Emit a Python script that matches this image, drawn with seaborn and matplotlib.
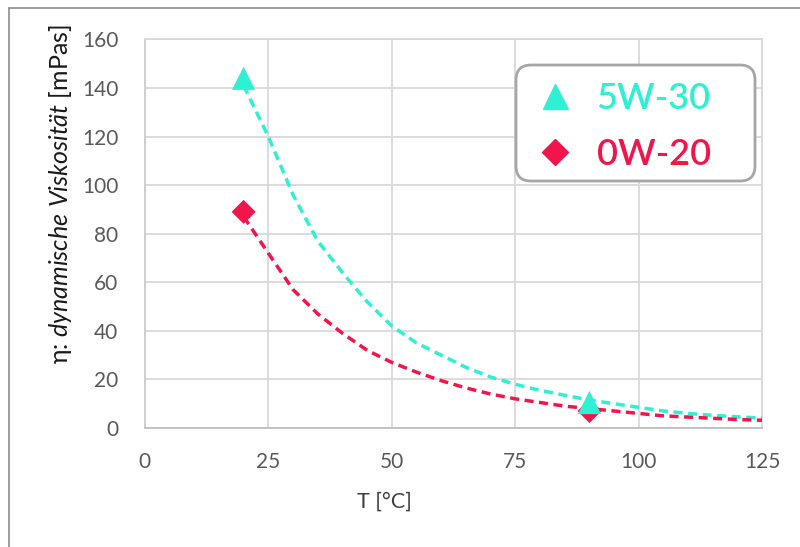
import numpy as np
import pandas as pd
import seaborn as sns
import matplotlib.pyplot as plt
from matplotlib.lines import Line2D
from matplotlib.patches import FancyBboxPatch

# Messpunkte (T in °C, Viskosität in mPas)
t_mess = [20, 90]
visk_5w30 = [144, 10.5]
visk_0w20 = [89, 7]

# Trendlinien
t_trend = [20, 25, 30, 35, 40, 45, 50, 55, 60, 65, 70, 75, 80, 85, 90, 95, 100, 105, 110, 115, 120, 125]
trend_5w30 = [141, 120, 96, 77, 64, 52, 42, 35, 30, 25, 21, 18, 15.5, 13.5, 11.5, 10, 8.5, 7, 6, 5.2, 4.6, 4.1]
trend_0w20 = [87, 72, 57, 47, 39, 32, 27, 23, 19.5, 16.5, 14, 12, 10.5, 9, 8, 7, 6, 5, 4.5, 4, 3.5, 3.2]

farbe_5w30 = '#2EF0D2'
farbe_0w20 = '#F2154B'

sns.set_style('white')
plt.rcParams['font.family'] = ['Lato', 'DejaVu Sans']
plt.rcParams['mathtext.fontset'] = 'custom'
plt.rcParams['mathtext.rm'] = 'Lato'
plt.rcParams['mathtext.it'] = 'Lato:italic'

df_mess = pd.DataFrame({'T': t_mess, '5W-30': visk_5w30, '0W-20': visk_0w20})
df_trend = pd.DataFrame({'T': t_trend, '5W-30': trend_5w30, '0W-20': trend_0w20})

fig = plt.figure(figsize=(8, 5.47), dpi=100)
ax = fig.add_axes([0.181, 0.2175, 0.772, 0.7105])

# gestrichelte Trendlinien
sns.lineplot(data=df_trend, x='T', y='5W-30', ax=ax, color=farbe_5w30, lw=2.5,
             dashes=False, linestyle=(0, (2.6, 1.6)), legend=False, zorder=3)
sns.lineplot(data=df_trend, x='T', y='0W-20', ax=ax, color=farbe_0w20, lw=2.5,
             dashes=False, linestyle=(0, (2.6, 1.6)), legend=False, zorder=3)

# Messpunkte
sns.scatterplot(data=df_mess, x='T', y='0W-20', ax=ax, marker='D', s=150,
                color=farbe_0w20, edgecolor='none', zorder=4)
sns.scatterplot(data=df_mess, x='T', y='5W-30', ax=ax, marker='^', s=280,
                color=farbe_5w30, edgecolor='none', zorder=5)

ax.set_xlim(0, 125)
ax.set_ylim(0, 160)
ax.set_xticks(range(0, 126, 25))
ax.set_yticks(range(0, 161, 20))
ax.grid(True, color='#d9d9d9', lw=1.3)
ax.set_axisbelow(True)
for s in ax.spines.values():
    s.set_color('#d9d9d9')
    s.set_linewidth(1.3)
ax.spines['bottom'].set_color('#bfbfbf')
ax.spines['left'].set_color('#cccccc')
ax.tick_params(axis='both', length=0, labelsize=15, labelcolor='#595959')
ax.tick_params(axis='y', pad=19)
ax.tick_params(axis='x', pad=17)
ax.set_xlabel('')
ax.set_ylabel('')

fig.text(0.481, 0.082, 'T [°C]', ha='center', va='center', fontsize=15.5, color='#404040')
fig.text(0.076, 0.645, r'η: $\mathit{dynamische\ Viskosität}$ [mPas]', rotation=90,
         ha='center', va='center', fontsize=18, color='#1a1a1a')

# Legende: Rahmen als eigenes Kästchen, Einträge ohne Rahmen
box = FancyBboxPatch((5.16, 3.66), 2.39, 1.16, boxstyle='round,pad=0,rounding_size=0.15',
                     transform=fig.dpi_scale_trans, facecolor='white', edgecolor='#a6a6a6',
                     lw=2, zorder=10, clip_on=False)
ax.add_artist(box)

handles = [
    Line2D([], [], marker='^', ls='none', color=farbe_5w30, markersize=18, label='5W-30'),
    Line2D([], [], marker='D', ls='none', color=farbe_0w20, markersize=13, label='0W-20'),
]
leg = ax.legend(handles=handles, loc='upper left', bbox_to_anchor=(0.632, 0.89),
                frameon=False, labelcolor='markerfacecolor',
                prop={'size': 26, 'weight': 'semibold'},
                handletextpad=0.6, borderpad=0, labelspacing=0.62, handlelength=1.1,
                borderaxespad=0)
leg.set_zorder(11)

# Rahmenlinien oben und links
fig.add_artist(Line2D([0.011, 1.0], [0.985, 0.985], color='#8c8c8c', lw=1.2))
fig.add_artist(Line2D([0.011, 0.011], [0.0, 0.985], color='#8c8c8c', lw=1.2))

fig.savefig('out.png', dpi=100)
